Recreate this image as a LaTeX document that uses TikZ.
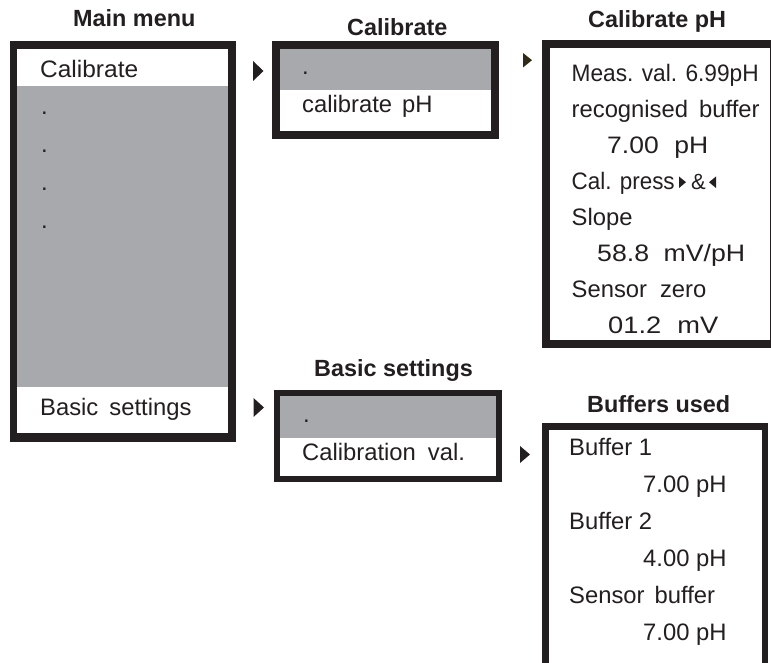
\documentclass[tikz,border=0pt]{standalone}
\usepackage{fontspec}
\setmainfont{Liberation Sans}
\definecolor{ink}{HTML}{231F20}
\definecolor{panel}{HTML}{A7A9AC}
\definecolor{olive}{HTML}{2E2C18}
% horizontal fit of a text line to a given width, height unchanged
\newcommand\fitw[2]{\resizebox{#1}{\height}{#2}}
\newcommand\gap[1]{\hspace{#1}}
\begin{document}
\begin{tikzpicture}[x=1pt,y=-1pt,
  txt/.style={anchor=base west, inner sep=0pt, text=ink,
              font=\fontsize{23.8}{28}\selectfont},
  head/.style={txt, font=\fontsize{23.4}{28}\selectfont\bfseries},
  frame/.style={fill=ink},
  screen/.style={fill=white},
  band/.style={fill=panel},
  marker/.style={fill=ink}]
\useasboundingbox (0,0) rectangle (771,663);

% ---------- Main menu ----------
\node[head] (hmain) at (73,27) {Main menu};
\fill[frame]  (10,41) rectangle (236,442);
\fill[screen] (17,49) rectangle (228,433);
\fill[band]   (17,86) rectangle (228,387);
\node[txt] (m1) at (40,77.5) {\fitw{98pt}{Calibrate}};
\node[txt] (m2) at (41,115) {.};
\node[txt] (m3) at (41,153) {.};
\node[txt] (m4) at (41,191) {.};
\node[txt] (m5) at (41,229) {.};
\node[txt] (m6) at (40,415) {Basic\gap{11pt}settings};

% ---------- Calibrate ----------
\node[head] (hcal) at (347,35.5) {Calibrate};
\fill[frame]  (272,41.5) rectangle (498.5,139);
\fill[screen] (279.5,49.3) rectangle (490.7,131);
\fill[band]   (279.5,49.3) rectangle (490.7,90);
\node[txt] (c1) at (302,75) {.};
\node[txt] (c2) at (302,113) {calibrate\gap{10pt}pH};
\fill[marker] (253,61) -- (253,81) -- (263.5,71) -- cycle;

% ---------- Basic settings ----------
\node[head] (hbas) at (314,376) {Basic settings};
\fill[frame]  (274.3,390) rectangle (501.7,481.5);
\fill[screen] (280,395.7) rectangle (495.7,476);
\fill[band]   (280,395.7) rectangle (495.7,437.7);
\node[txt] (b1) at (303,422) {.};
\node[txt] (b2) at (302,460) {Calibration\gap{12pt}val.};
\fill[marker] (253.5,398) -- (253.5,417) -- (264,407.5) -- cycle;
\fill[marker] (520,446) -- (520,463) -- (530,454.5) -- cycle;

% ---------- Calibrate pH ----------
\node[head] (hcph) at (588,28) {Calibrate pH};
\fill[frame]  (541.7,40) rectangle (780,348.3);
\fill[screen] (550,48.3) rectangle (770,340);
\fill[olive]  (523,53) -- (523,67.5) -- (532,60.2) -- cycle;
\node[txt] (p1) at (571.5,81.7)  {\fitw{187pt}{Meas. val. 6.99pH}};
\node[txt] (p2) at (571.5,117.6) {recognised\gap{11pt}buffer};
\node[txt] (p3) at (607,153.5)   {\fitw{101pt}{7.00\gap{14pt}pH}};
\node[txt] (p4) at (571.5,189.4) {\fitw{103pt}{Cal. press}};
\fill[marker] (679,176.5) -- (679,188) -- (686,182.2) -- cycle;
\node[txt, font=\fontsize{22}{26}\selectfont] (p4b) at (691,189.4) {\&};
\fill[marker] (716,176.5) -- (716,188) -- (709,182.2) -- cycle;
\node[txt] (p5) at (571.5,225.3) {Slope};
\node[txt] (p6) at (597,261.2)   {\fitw{148pt}{58.8\gap{13pt}mV/pH}};
\node[txt] (p7) at (571.5,297.1) {Sensor\gap{13pt}zero};
\node[txt] (p8) at (608,333)     {\fitw{110pt}{01.2\gap{14pt}mV}};

% ---------- Buffers used ----------
\node[head] (hbuf) at (587,412) {Buffers used};
\fill[frame]  (541.7,423.3) rectangle (768.3,680);
\fill[screen] (549.3,430) rectangle (761.7,680);
\node[txt] (u1) at (569,455)   {Buffer 1};
\node[txt] (u2) at (643,492)   {7.00 pH};
\node[txt] (u3) at (569,529)   {Buffer 2};
\node[txt] (u4) at (643,566.5) {4.00 pH};
\node[txt] (u5) at (569,603)   {Sensor\gap{10pt}buffer};
\node[txt] (u6) at (643,640)   {7.00 pH};
\end{tikzpicture}
\end{document}
